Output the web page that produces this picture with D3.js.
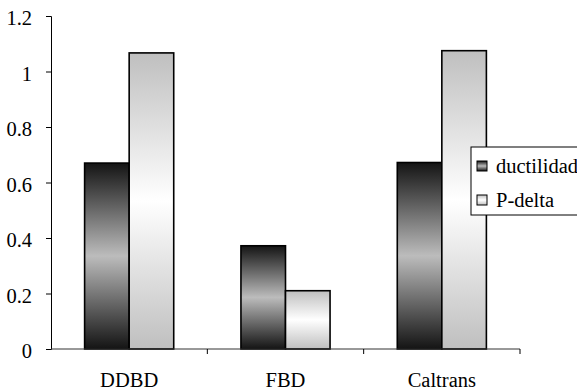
<!DOCTYPE html>
<html><head><meta charset="utf-8">
<script src="https://cdn.jsdelivr.net/npm/d3@7"></script>
</head>
<body style="margin:0">
<script>
const categories = ["DDBD", "FBD", "Caltrans"];
const seriesNames = ["ductilidad", "P-delta"];
const ductilidad = [0.67, 0.372, 0.672];
const pdelta = [1.067, 0.21, 1.075];
const yTicks = [0, 0.2, 0.4, 0.6, 0.8, 1, 1.2];

const FONT = "\"Liberation Serif\"";
const FS = "20.5px";
const W = 577, H = 392;
const svg = d3.select("body").append("svg").attr("width", W).attr("height", H)
  .style("display", "block")
  .attr("font-family", "Liberation Serif").attr("font-size", 20.5);

const defs = svg.append("defs");
function grad(id, edge, mid) {
  const g = defs.append("linearGradient").attr("id", id)
    .attr("x1", 0).attr("y1", 0).attr("x2", 0).attr("y2", 1);
  g.append("stop").attr("offset", "0%").attr("stop-color", edge);
  g.append("stop").attr("offset", "50%").attr("stop-color", mid);
  g.append("stop").attr("offset", "100%").attr("stop-color", edge);
}
grad("gDark", "#141414", "#bcbcbc");
grad("gLight", "#bfbfbf", "#ffffff");
const fills = ["url(#gDark)", "url(#gLight)"];

const x0 = 51, x1 = 520, yTop = 16, yBot = 349;
const x = d3.scaleBand().domain(categories).range([x0, x1]).paddingInner(0.43).paddingOuter(0.215);
const xs = d3.scaleBand().domain(seriesNames).range([0, x.bandwidth()]);
const y = d3.scaleLinear().domain([0, 1.2]).range([yBot, yTop]);

const data = categories.map((c, i) => ({cat: c, vals: [ductilidad[i], pdelta[i]]}));

const g = svg.append("g");
data.forEach(d => {
  d.vals.forEach((v, j) => {
    g.append("rect")
      .attr("x", x(d.cat) + xs(seriesNames[j]))
      .attr("y", y(v))
      .attr("width", xs.bandwidth())
      .attr("height", y(0) - y(v))
      .attr("fill", fills[j])
      .attr("stroke", "#000")
      .attr("stroke-width", 1.6);
  });
});

function serif(sel) {
  sel.attr("font-family", "Liberation Serif").attr("font-size", 20.5)
     .style("font-family", FONT).style("font-size", FS).attr("fill", "#000");
}

// Y axis
const yAxis = svg.append("g").attr("transform", `translate(${x0},0)`)
  .call(d3.axisLeft(y).tickValues(yTicks).tickSize(5).tickPadding(14).tickFormat(d => d3.format("")(d)));
yAxis.attr("font-family", "Liberation Serif").attr("font-size", 20.5);
yAxis.select(".domain").attr("stroke", "#000");
yAxis.selectAll(".tick line").attr("stroke", "#000");
yAxis.selectAll("text").call(serif).attr("dy", "0.42em");

// X axis
const xAxisG = svg.append("g").attr("transform", `translate(0,${yBot})`);
xAxisG.append("line").attr("x1", x0).attr("x2", x1).attr("y1", 0).attr("y2", 0).attr("stroke", "#333");
const step = x.step();
const boundaries = categories.map((c, i) => x0 + step * (i + 1));
xAxisG.selectAll("line.tk").data(boundaries).enter().append("line").attr("class", "tk")
  .attr("x1", d => d).attr("x2", d => d).attr("y1", 0).attr("y2", 5).attr("stroke", "#000");
xAxisG.selectAll("text").data(categories).enter().append("text")
  .attr("x", d => x(d) + x.bandwidth() / 2)
  .attr("y", 38)
  .attr("text-anchor", "middle")
  .call(serif)
  .text(d => d);

// Legend
const lg = svg.append("g").attr("transform", "translate(471,147)");
lg.append("rect").attr("x", 0).attr("y", 0).attr("width", 130).attr("height", 68)
  .attr("fill", "#fff").attr("stroke", "#000").attr("stroke-width", 1);
const legendBase = [26, 60];
seriesNames.forEach((s, i) => {
  lg.append("rect").attr("x", 6).attr("y", legendBase[i] - 12).attr("width", 10).attr("height", 10)
    .attr("fill", fills[i]).attr("stroke", "#000").attr("stroke-width", 1);
  lg.append("text").attr("x", 25).attr("y", legendBase[i]).call(serif).text(s);
});
</script>
</body></html>
